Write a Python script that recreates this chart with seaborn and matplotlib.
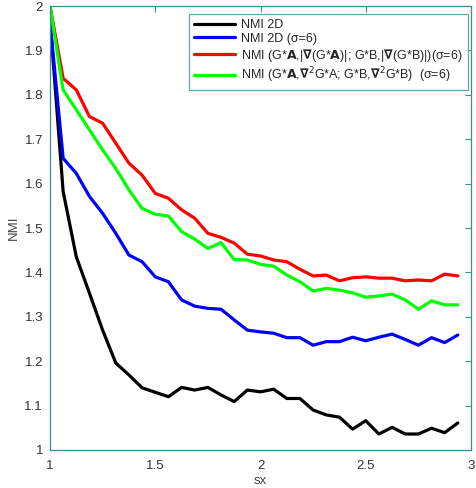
import numpy as np
import pandas as pd
import matplotlib
matplotlib.use('Agg')
import matplotlib.pyplot as plt
import seaborn as sns

# x positions: sx from 1 in steps of 1/16
sx = [1 + k / 16 for k in range(32)]

nmi_2d = [1.97, 1.582, 1.435, 1.353, 1.270, 1.196, 1.169, 1.140, 1.130, 1.120,
          1.141, 1.135, 1.141, 1.124, 1.109, 1.135, 1.131, 1.137, 1.116, 1.116,
          1.090, 1.079, 1.074, 1.047, 1.066, 1.036, 1.051, 1.036, 1.036, 1.049,
          1.039, 1.061]
nmi_2d_s6 = [1.965, 1.657, 1.623, 1.571, 1.533, 1.488, 1.439, 1.424, 1.390, 1.379,
             1.338, 1.324, 1.319, 1.317, 1.293, 1.270, 1.266, 1.263, 1.253, 1.253,
             1.236, 1.244, 1.244, 1.254, 1.246, 1.254, 1.261, 1.249, 1.236, 1.253,
             1.242, 1.259]
nmi_grad = [2.0, 1.837, 1.811, 1.751, 1.736, 1.691, 1.646, 1.619, 1.578, 1.567,
            1.541, 1.522, 1.488, 1.479, 1.466, 1.441, 1.437, 1.428, 1.424, 1.407,
            1.392, 1.394, 1.381, 1.388, 1.390, 1.387, 1.387, 1.381, 1.383, 1.381,
            1.396, 1.392]
nmi_lap = [2.0, 1.811, 1.766, 1.721, 1.676, 1.634, 1.586, 1.544, 1.531, 1.527,
           1.492, 1.475, 1.454, 1.467, 1.429, 1.428, 1.418, 1.414, 1.394, 1.379,
           1.358, 1.364, 1.360, 1.354, 1.344, 1.347, 1.351, 1.338, 1.317, 1.336,
           1.327, 1.327]

labels = [
    'NMI 2D',
    'NMI 2D (σ=6)',
    r'NMI (G*$\mathbf{A}$,|$\mathbf{\nabla}$(G*$\mathbf{A}$)|; G*B,|$\mathbf{\nabla}$(G*B)|)(σ=6)',
    r'NMI (G*$\mathbf{A}$,$\mathbf{\nabla}^2$G*A; G*B,$\mathbf{\nabla}^2$G*B)  (σ=6)',
]
colors = ['#000000', '#0000ff', '#ff0000', '#00ff00']

df = pd.DataFrame({
    'sx': sx * 4,
    'NMI': nmi_2d + nmi_2d_s6 + nmi_grad + nmi_lap,
    'method': np.repeat(labels, len(sx)),
})

sns.set_style('white')
plt.rcParams['font.family'] = ['Liberation Sans', 'DejaVu Sans']
plt.rcParams['mathtext.fontset'] = 'dejavusans'

fig = plt.figure(figsize=(4.76, 4.88), dpi=100)
ax = fig.add_axes([50 / 476, 1 - 450 / 488, 421 / 476, 444 / 488])

sns.lineplot(data=df, x='sx', y='NMI', hue='method', hue_order=labels,
             palette=colors, linewidth=2.3, ax=ax)

edge = '#3a8f8f'
ax.set_xlim(1, 3)
ax.set_ylim(1, 2)
ax.set_xticks([1, 1.5, 2, 2.5, 3])
ax.set_xticklabels(['1', '1.5', '2', '2.5', '3'])
ax.set_yticks(np.arange(1, 2.01, 0.1))
ax.set_yticklabels(['1', '1.1', '1.2', '1.3', '1.4', '1.5', '1.6', '1.7', '1.8', '1.9', '2'])
ax.tick_params(direction='in', length=4, width=0.8, color=edge, labelsize=9.5,
               labelcolor='#333333', top=True, right=True)
ax.tick_params(axis='x', pad=7)
ax.tick_params(axis='y', pad=5)
for s in ax.spines.values():
    s.set_color(edge)
    s.set_linewidth(0.9)
ax.set_xlabel('sx', fontsize=9.5, color='#444444', labelpad=2)
ax.set_ylabel('NMI', fontsize=9.5, color='#444444', labelpad=3)

leg = ax.legend(loc='upper right', fontsize=9.0, handlelength=3.3, handletextpad=0.5,
                frameon=True, fancybox=False, borderpad=0.4, labelspacing=0.15,
                borderaxespad=0, bbox_to_anchor=(0.993, 0.982))
leg.get_frame().set_edgecolor(edge)
leg.get_frame().set_linewidth(0.9)
for line in leg.get_lines():
    line.set_linewidth(2.3)

fig.savefig('out.png', dpi=100)
